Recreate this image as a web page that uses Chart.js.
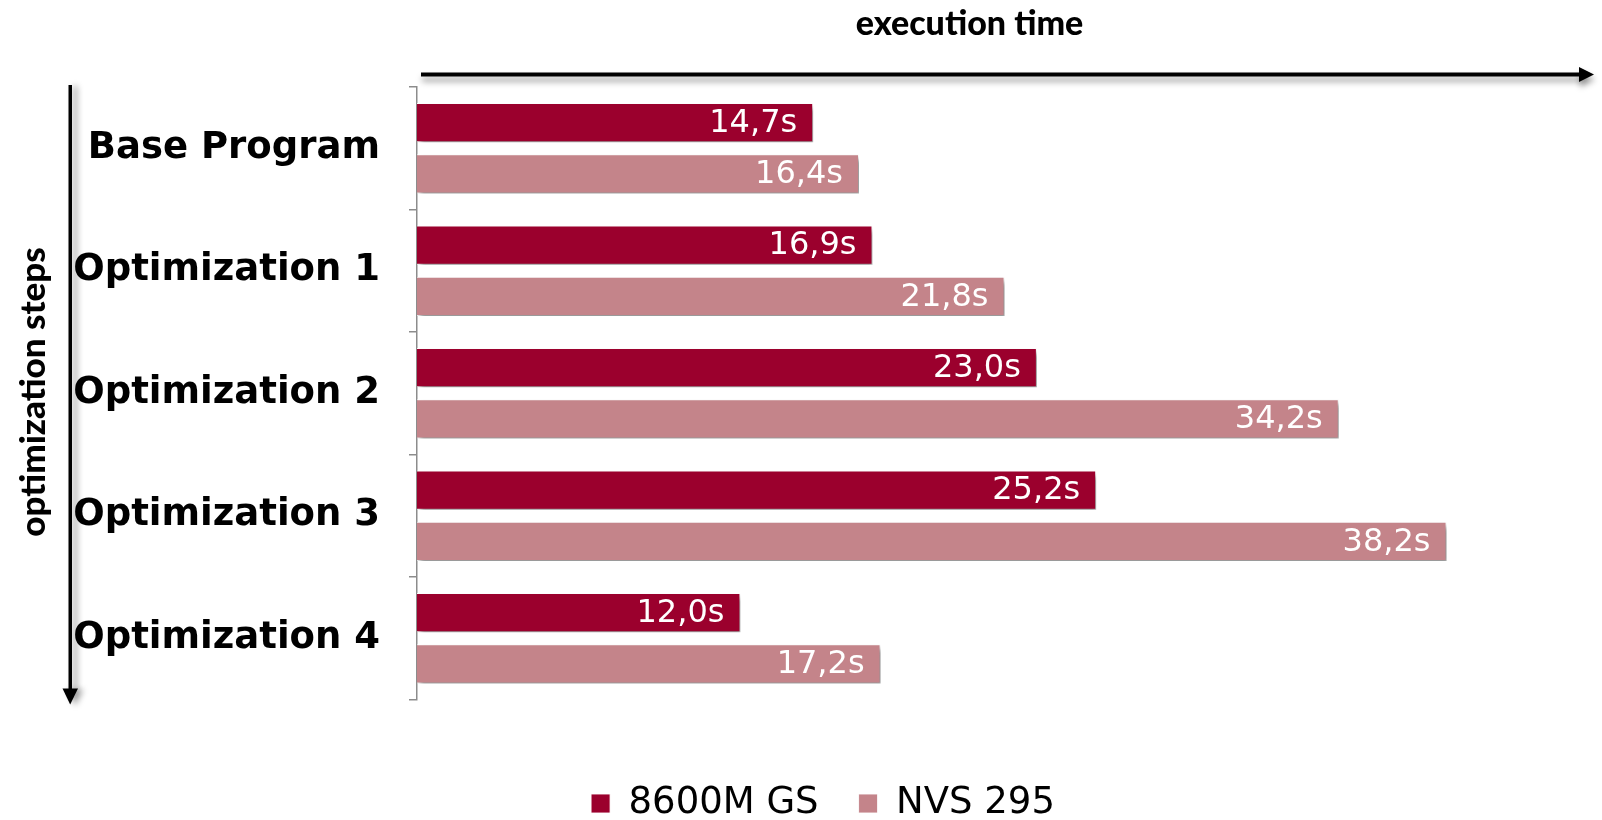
<!DOCTYPE html>
<html>
<head>
<meta charset="utf-8">
<script src="https://cdn.jsdelivr.net/npm/chart.js@4.4.1/dist/chart.umd.min.js"></script>
<style>
  body { margin: 0; overflow: hidden; background: #fff; }
  #wrap { width: 1602px; height: 832px; }
</style>
</head>
<body>
<div id="wrap"><canvas id="myChart"></canvas></div>
<script>
const steps = ["Base Program", "Optimization 1", "Optimization 2", "Optimization 3", "Optimization 4"];
const gs8600 = [14.7, 16.9, 23.0, 25.2, 12.0];
const nvs295 = [16.4, 21.8, 34.2, 38.2, 17.2];
const seriesNames = ["8600M GS", "NVS 295"];

const titleFont = "Lato, 'Open Sans', sans-serif";

// drop shadow under bars, value labels inside bar ends
const barDecor = {
  id: "barDecor",
  beforeDatasetsDraw(chart) {
    const c = chart.ctx;
    c.save();
    c.shadowColor = "rgba(0,0,0,0.45)";
    c.shadowBlur = 5;
    c.shadowOffsetX = 3;
    c.shadowOffsetY = 4;
  },
  afterDatasetsDraw(chart) {
    const c = chart.ctx;
    c.restore();
    c.save();
    c.font = "32px 'DejaVu Sans'";
    c.fillStyle = "#fff";
    c.textAlign = "right";
    c.textBaseline = "middle";
    chart.data.datasets.forEach(function (ds, i) {
      chart.getDatasetMeta(i).data.forEach(function (bar, j) {
        const txt = ds.data[j].toFixed(1).replace(".", ",") + "s";
        c.fillText(txt, bar.x - 16, bar.y + 1);
      });
    });
    c.restore();
  },
};

// the two axis arrows and the vertical caption
const arrows = {
  id: "arrows",
  afterLayout(chart) {
    // move legend a bit right, as in the original slide
    chart.legend.left += 62;
    chart.legend.right += 62;
  },
  afterDraw(chart) {
    const c = chart.ctx;
    const a = chart.chartArea;
    c.save();
    c.fillStyle = "#000";
    c.shadowColor = "rgba(0,0,0,0.4)";
    c.shadowBlur = 6;

    // horizontal arrow (execution time)
    const hy = a.top - 12.5;
    c.shadowOffsetX = 1;
    c.shadowOffsetY = 5;
    c.fillRect(a.left + 4, hy - 2, 1162, 4);
    c.beginPath();
    c.moveTo(1594, hy);
    c.lineTo(1579, hy - 7.5);
    c.lineTo(1579, hy + 7.5);
    c.closePath();
    c.fill();

    // vertical arrow (optimization steps)
    c.shadowOffsetX = 5;
    c.shadowOffsetY = 1;
    c.fillRect(68.5, a.top - 2, 3.5, a.bottom - a.top - 8);
    c.beginPath();
    c.moveTo(70.2, a.bottom + 5);
    c.lineTo(62.5, a.bottom - 11);
    c.lineTo(78, a.bottom - 11);
    c.closePath();
    c.fill();
    c.restore();

    c.save();
    c.translate(34, 392);
    c.rotate(-Math.PI / 2);
    c.font = "900 35px " + titleFont;
    c.fillStyle = "#000";
    c.textAlign = "center";
    c.textBaseline = "middle";
    c.fillText("optimization steps", 0, 0);
    c.restore();
  },
};

const ctx = document.getElementById("myChart");

var chart = new Chart(ctx, {
  type: "bar",
  data: {
    labels: steps,
    datasets: [
      {
        label: seriesNames[0],
        data: gs8600,
        backgroundColor: "#9B002D",
        borderColor: "rgba(255,255,255,0.85)",
        borderWidth: 1,
        categoryPercentage: 0.836,
        barPercentage: 0.765,
      },
      {
        label: seriesNames[1],
        data: nvs295,
        backgroundColor: "#C4848A",
        borderColor: "rgba(255,255,255,0.85)",
        borderWidth: 1,
        categoryPercentage: 0.836,
        barPercentage: 0.765,
      },
    ],
  },
  options: {
    indexAxis: "y",
    responsive: true,
    maintainAspectRatio: false,
    animation: false,
    layout: { padding: { left: 0, right: 80, top: 0, bottom: 0 } },
    scales: {
      x: {
        position: "top",
        min: 0,
        max: 41,
        ticks: { display: false },
        grid: { display: false },
        border: { display: false },
        title: {
          display: true,
          text: "execution time",
          color: "#000",
          font: { family: titleFont, size: 34, weight: "900", lineHeight: 1 },
          padding: { top: 7, bottom: 0 },
        },
        afterFit: function (scale) {
          scale.height = 87;
        },
      },
      y: {
        grid: {
          display: true,
          drawOnChartArea: false,
          drawTicks: true,
          tickLength: 8,
          color: "#8c8c8c",
          lineWidth: 1.5,
        },
        border: { display: true, color: "#8c8c8c", width: 1.5 },
        ticks: {
          padding: 29,
          color: "#000",
          font: { family: "'DejaVu Sans'", size: 37, weight: "bold" },
        },
        afterFit: function (scale) {
          scale.width = 417;
        },
      },
    },
    plugins: {
      legend: {
        position: "bottom",
        title: {
          display: true,
          text: " ",
          font: { size: 10, lineHeight: 1.2 },
          padding: { top: 33.5, bottom: 0 },
        },
        labels: {
          boxWidth: 19,
          boxHeight: 19,
          padding: 40,
          color: "#000",
          font: { family: "'DejaVu Sans'", size: 37 },
        },
      },
      tooltip: { enabled: false },
    },
  },
  plugins: [barDecor, arrows],
});
</script>
</body>
</html>
